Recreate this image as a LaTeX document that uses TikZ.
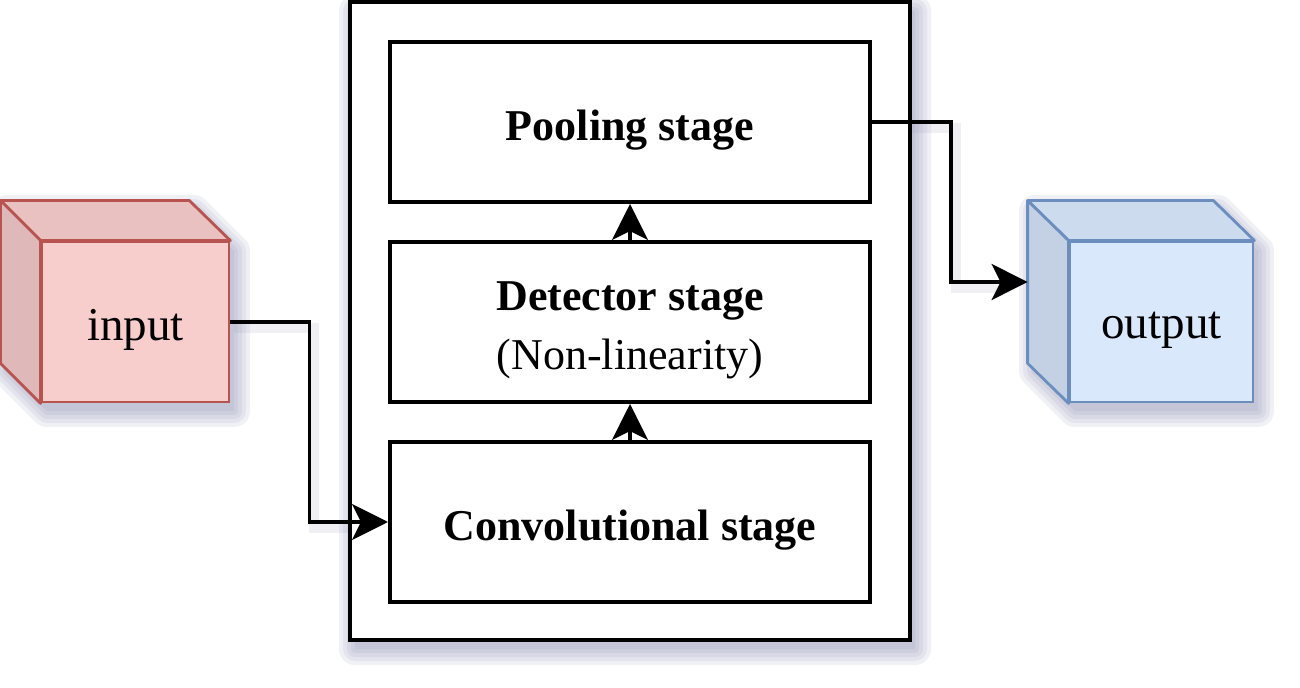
\documentclass[tikz,border=0pt]{standalone}
\usepackage{fontspec}
\setmainfont{Liberation Serif}
\usetikzlibrary{arrows.meta}
\definecolor{inFill}{HTML}{F8CECC}
\definecolor{inTop}{HTML}{E9C1C1}
\definecolor{inSide}{HTML}{DFB9B9}
\definecolor{inLine}{HTML}{B85450}
\definecolor{outFill}{HTML}{DAE8FC}
\definecolor{outTop}{HTML}{CDDBEF}
\definecolor{outSide}{HTML}{C4D1E4}
\definecolor{outLine}{HTML}{6C8EBF}
\definecolor{shadowc}{HTML}{7A7FA8}
\newcommand{\dn}[1]{\raisebox{-4pt}[\height][\depth]{#1}}
\newcommand{\softshadow}[1]{%
  \begin{scope}[shift={(5,9)}]
  \foreach \w in {16,12,8,4,0.1}{%
    \begin{scope}[transparency group,opacity=0.11]
      \filldraw[shadowc,line width=\w pt,line join=round] #1;
    \end{scope}
  }
  \end{scope}}
\begin{document}
\begin{tikzpicture}[x=0.5pt,y=-0.5pt,
  stagebox/.style={draw, line width=2pt, fill=white, minimum width=240pt,
    minimum height=80pt, inner sep=0pt, align=center,
    font=\fontsize{22}{29.5}\selectfont},
  framebox/.style={draw, line width=2pt, fill=white, minimum width=280pt,
    minimum height=319pt, inner sep=0pt},
  cubefront/.style={line width=1.4pt, minimum height=80pt, inner sep=0pt,
    font=\fontsize{23.5}{28}\selectfont},
  cubeface/.style={line width=1.4pt, line join=round},
  conn/.style={draw, line width=1.7pt, -{Stealth[length=18pt,width=18pt,inset=4.5pt]}},
  connshadow/.style={shadowc, opacity=0.12, line width=5pt}
]
\useasboundingbox (0,0) rectangle (1300,688);

% shadows
\softshadow{(350,2) rectangle (910,640)}
\softshadow{(2,202) -- (189,202) -- (229,242) -- (229,402) -- (42,402) -- (2,362) -- cycle}
\softshadow{(1030,202) -- (1213,202) -- (1253,242) -- (1253,402) -- (1070,402) -- (1030,362) -- cycle}
\draw[connshadow] (234,328) -- (314,328) -- (314,528) -- (370,528);
\draw[connshadow] (876,128) -- (956,128) -- (956,288) -- (1010,288);

% main frame and stages
\node[framebox] (frame) at (630,321) {};
\node[stagebox] (pool) at (630,122) {\dn{\textbf{Pooling stage}}};
\node[stagebox] (det) at (630,322) {\dn{\textbf{Detector stage}}\\\dn{(Non-linearity)}};
\node[stagebox] (conv) at (630,522) {\dn{\textbf{Convolutional stage}}};

% input cube
\node[cubefront, draw=inLine, fill=inFill, minimum width=93.5pt] (inp) at (135.5,322) {\dn{input}};
\filldraw[cubeface, fill=inTop, draw=inLine] (inp.north west) -- ++(-40,-40)
  -- ([xshift=-20.5pt,yshift=20pt]inp.north east) -- (inp.north east) -- cycle;
\filldraw[cubeface, fill=inSide, draw=inLine] (inp.north west) -- ++(-40,-40)
  -- ([xshift=-20pt,yshift=20pt]inp.south west) -- (inp.south west) -- cycle;

% output cube
\node[cubefront, draw=outLine, fill=outFill, minimum width=91.5pt] (outp) at (1161.5,322) {\dn{output}};
\filldraw[cubeface, fill=outTop, draw=outLine] (outp.north west) -- ++(-41,-40)
  -- ([xshift=-20.5pt,yshift=20pt]outp.north east) -- (outp.north east) -- cycle;
\filldraw[cubeface, fill=outSide, draw=outLine] (outp.north west) -- ++(-41,-40)
  -- ([xshift=-20.5pt,yshift=20pt]outp.south west) -- (outp.south west) -- cycle;
\coordinate (outback) at ([xshift=-20.5pt,yshift=20pt]outp.west);

% connectors
\draw[conn] (inp.east) -- ++(79,0) |- (conv.west);
\draw[conn] (conv.north) -- (det.south);
\draw[conn] (det.north) -- (pool.south);
\draw[conn] (pool.east) -- ++(79,0) |- (outback);
\end{tikzpicture}
\end{document}
